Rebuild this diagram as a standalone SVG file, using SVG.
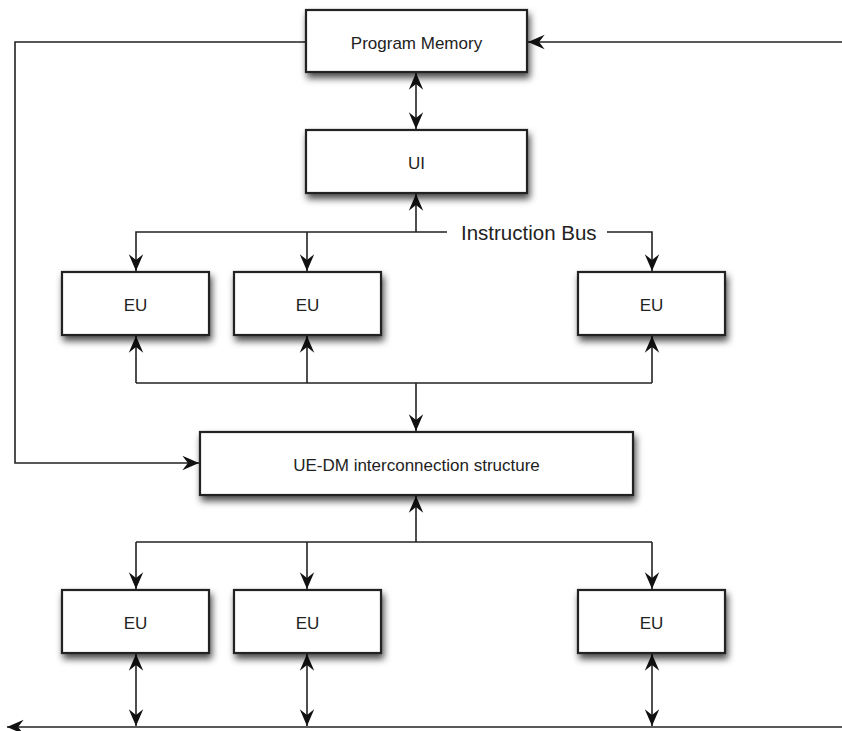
<svg xmlns="http://www.w3.org/2000/svg" width="842" height="731" viewBox="0 0 842 731">
<defs>
<filter id="sh" x="-20%" y="-30%" width="140%" height="170%">
<feDropShadow dx="2" dy="5" stdDeviation="3.5" flood-color="#000" flood-opacity="0.7"/>
</filter>
<marker id="ah" markerUnits="userSpaceOnUse" markerWidth="20" markerHeight="20" viewBox="-16 -8 18 16" refX="0" refY="0" orient="auto-start-reverse">
<path d="M0,0 L-15,-6.5 L-10,0 L-15,6.5 Z" fill="#111"/>
</marker>
<style>
.box{fill:#fff;stroke:#222;stroke-width:2.2;filter:url(#sh)}
.lbl{font-family:"Liberation Sans",Arial,sans-serif;font-size:17px;fill:#222;text-anchor:middle}
.bus{font-family:"Liberation Sans",Arial,sans-serif;font-size:20.5px;fill:#222}
.c{fill:none;stroke:#222;stroke-width:1.6}
.ae{marker-end:url(#ah)}
.ab{marker-start:url(#ah);marker-end:url(#ah)}
</style>
</defs>
<rect width="842" height="731" fill="#fff"/>
<g id="connectors">
<path class="c ae" d="M306,42 H15 V463 H199"/>
<path class="c ae" d="M842,42 H528"/>
<path class="c ab" d="M416,73 V129"/>
<path class="c ae" d="M416,232 V194"/>
<path class="c ae" d="M447,232 H136 V271"/>
<path class="c ae" d="M307,232 V271"/>
<path class="c ae" d="M607,232 H652 V271"/>
<path class="c" d="M136,383 H652"/>
<path class="c ae" d="M136,383 V336"/>
<path class="c ae" d="M307,383 V336"/>
<path class="c ae" d="M652,383 V336"/>
<path class="c ae" d="M416,383 V431"/>
<path class="c ae" d="M416,542 V496"/>
<path class="c" d="M136,542 H652"/>
<path class="c ae" d="M136,542 V589"/>
<path class="c ae" d="M307,542 V589"/>
<path class="c ae" d="M652,542 V589"/>
<path class="c ab" d="M136,654 V726"/>
<path class="c ab" d="M307,654 V726"/>
<path class="c ab" d="M652,654 V726"/>
<path class="c ae" d="M842,727 H7"/>
<text class="bus" x="461" y="240">Instruction Bus</text>
</g>
<g id="program-memory"><rect class="box" x="306" y="10" width="221" height="62"/><text class="lbl" x="416.5" y="49">Program Memory</text></g>
<g id="ui"><rect class="box" x="306" y="130" width="221" height="63"/><text class="lbl" x="416.5" y="169">UI</text></g>
<g id="eu1"><rect class="box" x="62" y="272" width="147" height="63"/><text class="lbl" x="135.5" y="311">EU</text></g>
<g id="eu2"><rect class="box" x="234" y="272" width="147" height="63"/><text class="lbl" x="307.5" y="311">EU</text></g>
<g id="eu3"><rect class="box" x="578" y="272" width="147" height="63"/><text class="lbl" x="651.5" y="311">EU</text></g>
<g id="ue-dm"><rect class="box" x="200" y="432" width="433" height="63"/><text class="lbl" x="416.5" y="471">UE-DM interconnection structure</text></g>
<g id="eu4"><rect class="box" x="62" y="590" width="147" height="63"/><text class="lbl" x="135.5" y="629">EU</text></g>
<g id="eu5"><rect class="box" x="234" y="590" width="147" height="63"/><text class="lbl" x="307.5" y="629">EU</text></g>
<g id="eu6"><rect class="box" x="578" y="590" width="147" height="63"/><text class="lbl" x="651.5" y="629">EU</text></g>
</svg>
